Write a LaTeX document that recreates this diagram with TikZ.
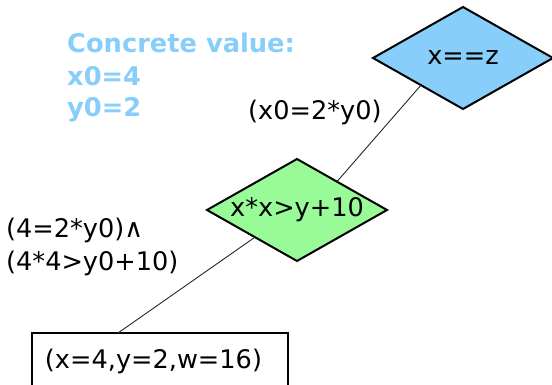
\documentclass[tikz,border=0pt]{standalone}
\usepackage{fontspec}
\setmainfont{DejaVu Sans}
\usetikzlibrary{shapes.geometric,calc}
\definecolor{skyfill}{RGB}{135,206,250}
\definecolor{greenfill}{RGB}{152,251,152}
\definecolor{labelblue}{RGB}{135,206,250}
\begin{document}
\begin{tikzpicture}[x=1pt,y=-1pt,
  font=\fontsize{25.6}{30}\selectfont,
  cond/.style={diamond, draw=black, line width=2pt, inner sep=0pt, outer sep=0pt,
    minimum width=180pt, minimum height=102pt, aspect=1.75},
  leaf/.style={rectangle, draw=black, line width=2pt, outer sep=0pt,
    inner xsep=13pt, inner ysep=16pt, text width=230pt, align=left,
    minimum width=256pt},
  edge/.style={draw=black!85, line width=0.9pt},
  lbl/.style={anchor=base west, inner sep=0pt},
  info/.style={lbl, text=labelblue, font=\fontsize{25.7}{30}\selectfont\bfseries}]
\clip (0,0) rectangle (552,385);
% nodes
\node[cond, fill=skyfill] (n1) at (463,58) {x==z};
\node[cond, fill=greenfill] (n2) at (297,210) {x*x>y+10};
\node[leaf, anchor=north west] (n3) at (32,333) {(x=4,y=2,w=16)};
% connectors
\coordinate (a1) at ($(n1.west)!0.533!(n1.south)$);
\coordinate (b1) at ($(n2.north)!0.444!(n2.east)$);
\draw[edge] (a1) -- (b1);
\coordinate (a2) at ($(n2.west)!0.533!(n2.south)$);
\coordinate (b2) at ($(n3.north west)!0.336!(n3.north east)$);
\draw[edge] (a2) -- (b2);
% labels
\node[info] (c1) at (67,53) {Concrete value:};
\node[info] (c2) at (67,86) {x0=4};
\node[info] (c3) at (67,117) {y0=2};
\node[lbl] (e1) at (248,120) {(x0=2*y0)};
\node[lbl] (e2) at (6,237) {(4=2*y0)∧};
\node[lbl] (e3) at (6,270) {(4*4>y0+10)};
\end{tikzpicture}
\end{document}
